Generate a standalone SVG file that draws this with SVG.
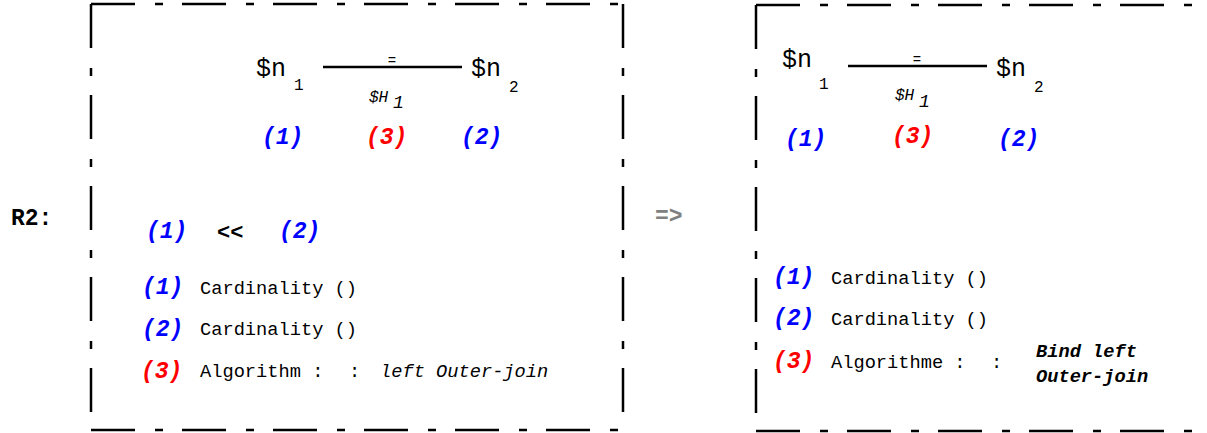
<svg xmlns="http://www.w3.org/2000/svg" width="1207" height="433" viewBox="0 0 1207 433">
<style>
.frame{stroke:#000;stroke-width:2.5;fill:none;stroke-dasharray:44 20 8 19}
.t{font-family:"Liberation Mono","Courier New",monospace;fill:#000}
.big{font-size:25px}
.sub{font-size:16px}
.lab{font-size:23px;font-weight:bold;font-style:italic}
.blue{fill:#0000ff}
.red{fill:#ff0000}
.txt{font-size:18.7px}
.it{font-style:italic}
.bi{font-style:italic;font-weight:bold}
.rel{stroke:#000;stroke-width:2.5}
</style>
<rect width="1207" height="433" fill="#fff"/>
<g id="label-r2"><text class="t" x="11" y="225" font-size="23" font-weight="bold">R2:</text></g>
<g id="arrow-implies"><text class="t" x="655" y="223" font-size="23" font-weight="bold" style="fill:#808080">=&gt;</text></g>
<g id="box-left">
<line class="frame" x1="91" y1="4" x2="623" y2="4"/>
<line class="frame" x1="91" y1="4" x2="91" y2="430"/>
<line class="frame" x1="623" y1="4" x2="623" y2="430"/>
<line class="frame" x1="91" y1="430" x2="623" y2="430"/>
</g>
<g id="box-right">
<line class="frame" x1="756" y1="5" x2="1207" y2="5"/>
<line class="frame" x1="756" y1="5" x2="756" y2="431"/>
<line class="frame" x1="756" y1="431" x2="1207" y2="431"/>
</g>
<g id="connectors">
<line class="rel" x1="323" y1="67" x2="462" y2="67"/>
<line class="rel" x1="848" y1="66" x2="987" y2="66"/>
</g>
<g id="node-left-n1">
<text class="t big" x="256" y="76">$n</text><text class="t sub" x="294" y="90">1</text>
</g>
<g id="node-left-n2">
<text class="t big" x="471" y="76">$n</text><text class="t sub" x="509" y="92">2</text>
</g>
<g id="edge-left-label">
<text class="t" x="392" y="65" font-size="14" text-anchor="middle">=</text>
<text class="t it" x="369" y="102" font-size="16">$H</text><text class="t it" x="393" y="108" font-size="18">1</text>
</g>
<g id="left-markers">
<text class="t lab blue" x="262" y="144">(1)</text>
<text class="t lab red" x="366" y="144">(3)</text>
<text class="t lab blue" x="461" y="144">(2)</text>
</g>
<g id="left-order">
<text class="t lab blue" x="146" y="238">(1)</text>
<text class="t" x="217" y="239" font-size="22" font-weight="bold">&lt;&lt;</text>
<text class="t lab blue" x="279" y="238">(2)</text>
</g>
<g id="left-props">
<text class="t lab blue" x="142" y="294">(1)</text><text class="t txt" x="200" y="294">Cardinality ()</text>
<text class="t lab blue" x="142" y="336">(2)</text><text class="t txt" x="200" y="335">Cardinality ()</text>
<text class="t lab red" x="141" y="378">(3)</text><text class="t txt" x="200" y="377">Algorithm :</text><text class="t txt" x="349" y="377">:</text><text class="t txt it" x="380" y="377">left Outer-join</text>
</g>
<g id="node-right-n1">
<text class="t big" x="782" y="67">$n</text><text class="t sub" x="819" y="89">1</text>
</g>
<g id="node-right-n2">
<text class="t big" x="996" y="76">$n</text><text class="t sub" x="1034" y="92">2</text>
</g>
<g id="edge-right-label">
<text class="t" x="917" y="64" font-size="14" text-anchor="middle">=</text>
<text class="t it" x="895" y="100" font-size="16">$H</text><text class="t it" x="919" y="107" font-size="18">1</text>
</g>
<g id="right-markers">
<text class="t lab blue" x="785" y="146">(1)</text>
<text class="t lab red" x="892" y="143">(3)</text>
<text class="t lab blue" x="998" y="146">(2)</text>
</g>
<g id="right-props">
<text class="t lab blue" x="773" y="284">(1)</text><text class="t txt" x="831" y="284">Cardinality ()</text>
<text class="t lab blue" x="773" y="325">(2)</text><text class="t txt" x="831" y="325">Cardinality ()</text>
<text class="t lab red" x="773" y="368">(3)</text><text class="t txt" x="831" y="368">Algorithme :</text><text class="t txt" x="991" y="368">:</text>
<text class="t txt bi" x="1036" y="357">Bind left</text>
<text class="t txt bi" x="1036" y="382">Outer-join</text>
</g>
</svg>
